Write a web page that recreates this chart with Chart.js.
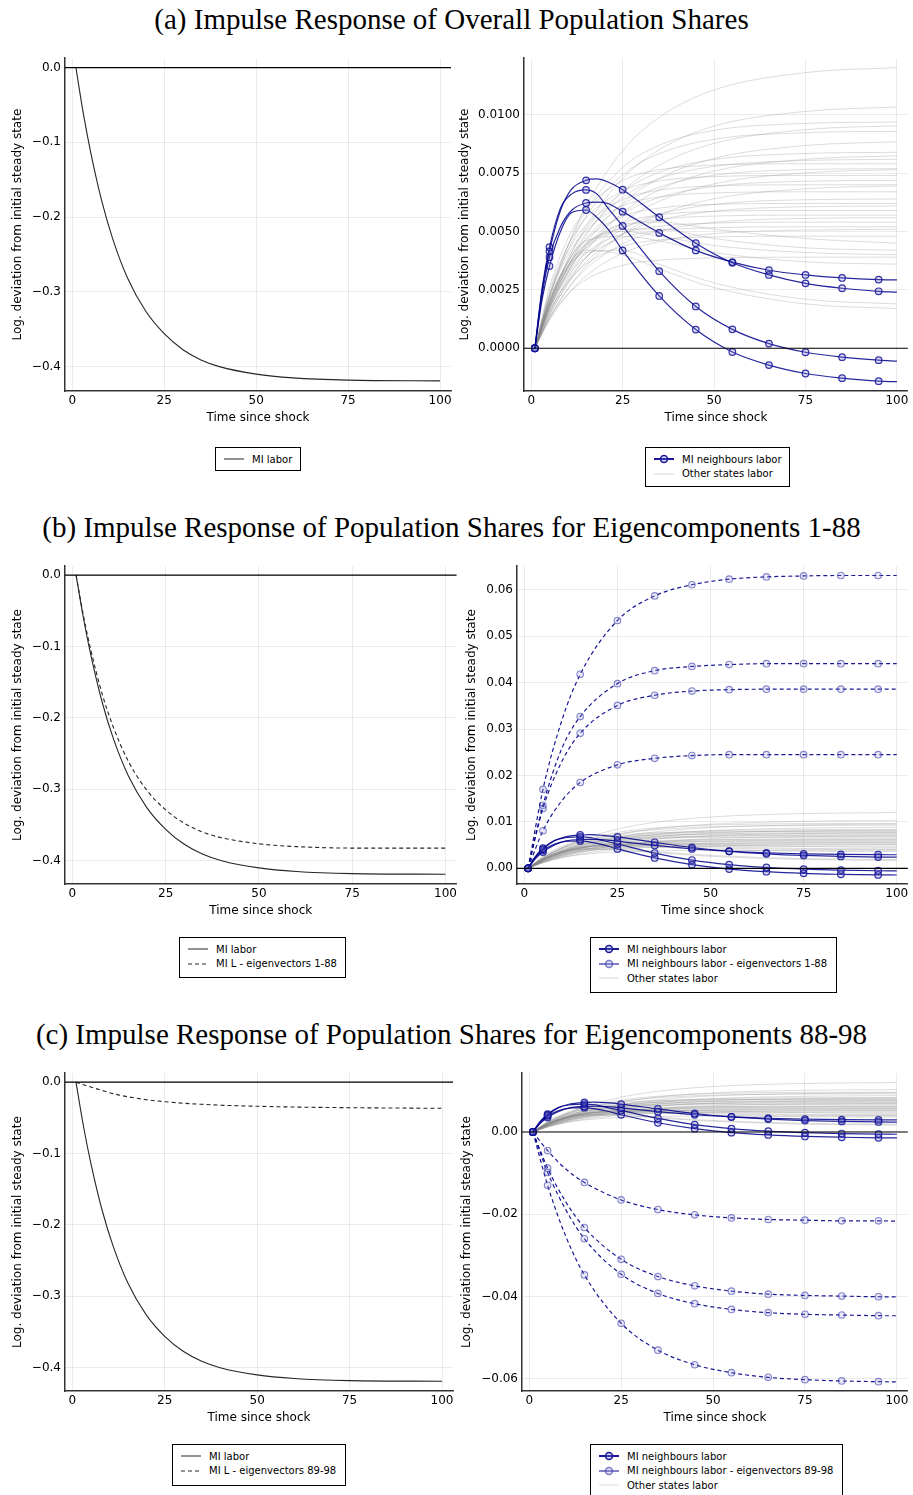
<!DOCTYPE html>
<html>
<head>
<meta charset="utf-8">
<script src="https://cdn.jsdelivr.net/npm/chart.js@4.4.1/dist/chart.umd.min.js"></script>
<style>
  body { margin: 0; background: #fff; }
  #page { position: relative; width: 913px; height: 1495px; overflow: hidden; background: #fff; }
  .title { position: absolute; left: 0; width: 903px; height: 36px; line-height: 36px; text-align: center;
           font-family: "Liberation Serif", serif; font-size: 29px; color: #000; white-space: nowrap; }
  canvas { position: absolute; }
  .legend { position: absolute; box-sizing: border-box; border: 1px solid #000; background: #fff;
            padding: 4px 0 0 8px; font-family: "DejaVu Sans", sans-serif; font-size: 10px; color: #000; }
  .legend .row { height: 14.5px; display: flex; align-items: center; white-space: nowrap; }
  .legend svg { width: 20px; height: 10px; margin-right: 8px; flex: none; }
</style>
</head>
<body>
<div id="page">
  <div class="title" style="top:1px">(a) Impulse Response of Overall Population Shares</div>
  <div class="title" style="top:509px">(b) Impulse Response of Population Shares for Eigencomponents 1-88</div>
  <div class="title" style="top:1016px">(c) Impulse Response of Population Shares for Eigencomponents 88-98</div>

  <canvas id="aL"></canvas>
  <canvas id="aR"></canvas>
  <canvas id="bL"></canvas>
  <canvas id="bR"></canvas>
  <canvas id="cL"></canvas>
  <canvas id="cR"></canvas>

  <div class="legend" style="left:215px;top:447px;width:86px;height:24px">
    <div class="row"><svg><line x1="0" y1="5" x2="20" y2="5" stroke="#262626" stroke-width="1"/></svg>MI labor</div>
  </div>
  <div class="legend" style="left:645px;top:447px;width:145px;height:40px">
    <div class="row"><svg><line x1="0" y1="5" x2="20" y2="5" stroke="#1a1a99" stroke-width="2"/><circle cx="10" cy="5" r="3.5" fill="rgba(120,120,220,0.3)" stroke="#1a1a99" stroke-width="1.5"/></svg>MI neighbours labor</div>
    <div class="row"><svg><line x1="0" y1="5" x2="20" y2="5" stroke="rgba(128,128,128,0.3)" stroke-width="1"/></svg>Other states labor</div>
  </div>

  <div class="legend" style="left:179px;top:937px;width:167px;height:41px">
    <div class="row"><svg><line x1="0" y1="5" x2="20" y2="5" stroke="#262626" stroke-width="1"/></svg>MI labor</div>
    <div class="row"><svg><line x1="0" y1="5" x2="20" y2="5" stroke="#262626" stroke-width="1" stroke-dasharray="4 3"/></svg>MI L - eigenvectors 1-88</div>
  </div>
  <div class="legend" style="left:590px;top:937px;width:247px;height:56px">
    <div class="row"><svg><line x1="0" y1="5" x2="20" y2="5" stroke="#1a1a99" stroke-width="2"/><circle cx="10" cy="5" r="3.5" fill="rgba(120,120,220,0.3)" stroke="#1a1a99" stroke-width="1.5"/></svg>MI neighbours labor</div>
    <div class="row"><svg><line x1="0" y1="5" x2="20" y2="5" stroke="rgba(60,60,170,0.65)" stroke-width="2"/><circle cx="10" cy="5" r="3.5" fill="rgba(140,140,220,0.25)" stroke="rgba(60,60,170,0.65)" stroke-width="1.5"/></svg>MI neighbours labor - eigenvectors 1-88</div>
    <div class="row"><svg><line x1="0" y1="5" x2="20" y2="5" stroke="rgba(128,128,128,0.3)" stroke-width="1"/></svg>Other states labor</div>
  </div>

  <div class="legend" style="left:172px;top:1444px;width:174px;height:42px">
    <div class="row"><svg><line x1="0" y1="5" x2="20" y2="5" stroke="#262626" stroke-width="1"/></svg>MI labor</div>
    <div class="row"><svg><line x1="0" y1="5" x2="20" y2="5" stroke="#262626" stroke-width="1" stroke-dasharray="4 3"/></svg>MI L - eigenvectors 89-98</div>
  </div>
  <div class="legend" style="left:590px;top:1444px;width:253px;height:56px">
    <div class="row"><svg><line x1="0" y1="5" x2="20" y2="5" stroke="#1a1a99" stroke-width="2"/><circle cx="10" cy="5" r="3.5" fill="rgba(120,120,220,0.3)" stroke="#1a1a99" stroke-width="1.5"/></svg>MI neighbours labor</div>
    <div class="row"><svg><line x1="0" y1="5" x2="20" y2="5" stroke="rgba(60,60,170,0.65)" stroke-width="2"/><circle cx="10" cy="5" r="3.5" fill="rgba(140,140,220,0.25)" stroke="rgba(60,60,170,0.65)" stroke-width="1.5"/></svg>MI neighbours labor - eigenvectors 89-98</div>
    <div class="row"><svg><line x1="0" y1="5" x2="20" y2="5" stroke="rgba(128,128,128,0.3)" stroke-width="1"/></svg>Other states labor</div>
  </div>
</div>

<script>
// ---- data ----

// x ticks shared by every panel
const xTicks = [0, 25, 50, 75, 100];
// y ticks for each panel
const laborTicks = [0, -0.1, -0.2, -0.3, -0.4];
const neighTicksA = [0, 0.0025, 0.005, 0.0075, 0.01];
const neighTicksB = [0, 0.01, 0.02, 0.03, 0.04, 0.05, 0.06];
const neighTicksC = [0, -0.02, -0.04, -0.06];

// MI labor (left panels)
const tLabor = [1, 3, 5, 8, 11, 15, 20, 25, 30, 35, 40, 50, 60, 75, 100];
const miLabor = [0, -0.061, -0.113, -0.178, -0.229, -0.281, -0.326, -0.356, -0.377, -0.391, -0.400, -0.410, -0.415, -0.418, -0.419];
const miLabor1to88 = [0, -0.0575, -0.106, -0.1665, -0.213, -0.2606, -0.3015, -0.3287, -0.3475, -0.360, -0.3678, -0.3763, -0.3802, -0.3823, -0.3824];
const miLabor89to98 = [0, -0.0035, -0.0068, -0.0115, -0.0160, -0.0204, -0.0245, -0.0273, -0.0295, -0.0310, -0.0322, -0.0337, -0.0348, -0.0357, -0.0366];

// MI neighbours labor (4 states), markers every 10 periods
const markerTimes = [1, 5, 15, 25, 35, 45, 55, 65, 75, 85, 95];
const tNeigh = [1, 3, 5, 8, 11, 15, 18, 21, 25, 35, 45, 55, 65, 75, 85, 95, 100];
const neighA = [0, 0.0025, 0.00415, 0.0059, 0.0068, 0.00719, 0.00725, 0.00712, 0.00679, 0.00561, 0.0045, 0.00366, 0.00314, 0.00278, 0.00257, 0.00244, 0.0024];
const neighB = [0, 0.0023, 0.0039, 0.0052, 0.0059, 0.00622, 0.00626, 0.0062, 0.00585, 0.00494, 0.00419, 0.00369, 0.00334, 0.00314, 0.00301, 0.00294, 0.00293];
const neighC = [0, 0.0026, 0.00433, 0.0060, 0.0066, 0.00678, 0.0066, 0.0060, 0.00524, 0.0033, 0.00179, 0.00081, 0.0002, -0.00017, -0.00038, -0.00051, -0.00055];
const neighD = [0, 0.0021, 0.00352, 0.0050, 0.0058, 0.00592, 0.0056, 0.0051, 0.00419, 0.00224, 0.0008, -0.00016, -0.00072, -0.00108, -0.00128, -0.00141, -0.00143];

// MI neighbours labor - eigenvector parts
const tEig = [1, 5, 10, 15, 25, 35, 45, 55, 65, 75, 85, 95, 100];
const eig1to88A = [0, 0.0170, 0.0317, 0.0418, 0.0534, 0.0587, 0.0611, 0.0623, 0.0628, 0.0630, 0.0631, 0.0631, 0.0631];
const eig1to88B = [0, 0.0136, 0.0257, 0.0327, 0.0398, 0.0426, 0.0435, 0.0439, 0.0441, 0.0441, 0.0441, 0.0441, 0.0441];
const eig1to88C = [0, 0.0129, 0.0229, 0.0291, 0.0351, 0.0373, 0.0382, 0.0385, 0.0386, 0.0386, 0.0386, 0.0386, 0.0386];
const eig1to88D = [0, 0.0081, 0.0145, 0.0185, 0.0223, 0.0237, 0.0243, 0.0245, 0.0245, 0.0245, 0.0245, 0.0245, 0.0245];
const eig89to98A = [0, -0.00452, -0.00905, -0.01226, -0.01653, -0.01887, -0.02016, -0.02089, -0.02129, -0.02145, -0.02161, -0.02161, -0.0217];
const eig89to98B = [0, -0.0088, -0.0171, -0.02323, -0.03097, -0.03516, -0.03742, -0.03871, -0.03944, -0.03976, -0.03992, -0.04008, -0.0401];
const eig89to98C = [0, -0.00984, -0.0190, -0.02597, -0.0346, -0.03927, -0.04177, -0.04315, -0.04395, -0.04435, -0.04452, -0.04468, -0.0447];
const eig89to98D = [0, -0.01298, -0.0255, -0.03476, -0.04653, -0.05306, -0.05661, -0.05855, -0.05968, -0.06024, -0.06056, -0.06073, -0.0608];

// other states labor (grey bundle)
const tOther = [1, 5, 10, 15, 25, 35, 50, 75, 100];
const otherStates = [
  [0, .00219, .00438, .00609, .00846, .00989, .01106, .0118, .01202],
  [0, .00188, .00376, .00523, .00727, .0085, .00951, .01014, .01033],
  [0, .00227, .00437, .00589, .00774, .00869, .00933, .00963, .00969],
  [0, .00174, .00348, .00483, .00671, .00784, .00877, .00936, .00953],
  [0, .00218, .00419, .00565, .00742, .00833, .00895, .00923, .00929],
  [0, .00161, .00322, .00448, .00622, .00727, .00813, .00868, .00884],
  [0, .00197, .00379, .0051, .0067, .00753, .00808, .00834, .00839],
  [0, .0015, .003, .00417, .0058, .00678, .00759, .00809, .00824],
  [0, .0019, .00365, .00492, .00646, .00726, .00779, .00804, .00809],
  [0, .00261, .00468, .00595, .00718, .00764, .00784, .0079, .0079],
  [0, .0018, .00347, .00467, .00614, .0069, .00741, .00765, .00769],
  [0, .00139, .00279, .00387, .00538, .00629, .00704, .00751, .00765],
  [0, .00244, .00439, .00557, .00673, .00716, .00735, .0074, .0074],
  [0, .00168, .00325, .00437, .00575, .00645, .00693, .00715, .00719],
  [0, .00231, .00415, .00527, .00636, .00677, .00695, .007, .007],
  [0, .00127, .00253, .00352, .00489, .00572, .0064, .00683, .00695],
  [0, .00221, .00397, .00505, .00609, .00648, .00665, .0067, .0067],
  [0, .0015, .00289, .00388, .00511, .00573, .00616, .00636, .00639],
  [0, .00205, .00368, .00467, .00564, .006, .00616, .0062, .0062],
  [0, .00143, .00275, .0037, .00487, .00547, .00587, .00606, .00609],
  [0, .00195, .0035, .00444, .00536, .00571, .00586, .0059, .0059],
  [0, .00188, .00338, .00429, .00518, .00551, .00566, .0057, .0057],
  [0, .00131, .00253, .0034, .00447, .00502, .00539, .00556, .00559],
  [0, .00178, .0032, .00407, .00491, .00522, .00536, .0054, .0054],
  [0, .00172, .00308, .00392, .00473, .00503, .00516, .0052, .0052],
  [0, .00119, .0023, .0031, .00407, .00457, .00491, .00506, .00509],
  [0, .00158, .00285, .00361, .00436, .00464, .00477, .0048, .0048],
  [0, .0017, .0033, .0043, .0053, .0054, .0051, .0047, .0045],
  [0, .0018, .0034, .0044, .0051, .0051, .0047, .0043, .0042],
  [0, .0019, .0035, .0045, .0050, .0048, .0044, .0041, .0040],
  [0, .0020, .0037, .0046, .0048, .0046, .0041, .0037, .0036],
  [0, .0020, .0035, .0041, .0042, .0036, .0028, .0021, .0019],
  [0, .0021, .0036, .0042, .0040, .0034, .0026, .0019, .0017],
  [0, .00129, .00231, .00294, .00355, .00377, .00387, .0039, .0039]
];

// ---- styling helpers ----
const xMin = -1.97, xMax = 102.97;
const NAVY = "rgba(0,0,139,0.85)";
const FONT = "DejaVu Sans";

function pts(ts, vs) {
  return ts.map((t, i) => ({ x: t, y: vs[i] }));
}

function markers(ts) {
  return ts.map((t) => (markerTimes.includes(t) ? 3.3 : 0));
}

function laborLine(vals, dashed) {
  return {
    data: pts(tLabor, vals),
    borderColor: "#262626",
    borderWidth: 1.1,
    borderDash: dashed ? [4, 3] : [],
    pointRadius: 0,
    cubicInterpolationMode: "monotone",
    fill: false,
  };
}

function neighLine(vals) {
  return {
    data: pts(tNeigh, vals),
    borderColor: NAVY,
    borderWidth: 1.2,
    pointRadius: markers(tNeigh),
    pointBorderColor: "rgba(20,20,150,0.85)",
    pointBackgroundColor: "rgba(110,110,210,0.25)",
    pointBorderWidth: 1.2,
    cubicInterpolationMode: "monotone",
    fill: false,
  };
}

function eigLine(vals) {
  return {
    data: pts(tEig, vals),
    borderColor: "rgba(0,0,139,0.9)",
    borderWidth: 1.2,
    borderDash: [4, 3],
    pointRadius: markers(tEig),
    pointBorderColor: "rgba(60,60,170,0.6)",
    pointBackgroundColor: "rgba(140,140,220,0.2)",
    pointBorderWidth: 1.1,
    cubicInterpolationMode: "monotone",
    fill: false,
  };
}

function otherLines() {
  return otherStates.map((vals) => ({
    data: pts(tOther, vals),
    borderColor: "rgba(128,128,128,0.28)",
    borderWidth: 1,
    pointRadius: 0,
    cubicInterpolationMode: "monotone",
    fill: false,
  }));
}

function neighbours() {
  return [neighLine(neighA), neighLine(neighB), neighLine(neighC), neighLine(neighD)];
}

// horizontal line at zero
const zeroLine = {
  id: "zeroLine",
  afterDatasetsDraw(chart) {
    const { ctx, chartArea, scales } = chart;
    const py = scales.y.getPixelForValue(0);
    ctx.save();
    ctx.strokeStyle = "#000";
    ctx.lineWidth = 1.2;
    ctx.beginPath();
    ctx.moveTo(chartArea.left, py);
    ctx.lineTo(chartArea.right, py);
    ctx.stroke();
    ctx.restore();
  },
};

function fmt(v, dec) {
  const s = Math.abs(v) < 1e-12 ? (0).toFixed(dec) : v.toFixed(dec);
  return s.replace("-", "\u2212");
}

// panel layout: plot box in page pixels
const panels = [
  { id: "aL", left: 0, width: 460, plotTop: 57, plotBottom: 391, plotLeft: 65, plotRight: 451, titlePad: 11,
    ymin: -0.4326, ymax: 0.0126, yTicks: laborTicks, dec: 1,
    sets: () => [laborLine(miLabor, false)] },
  { id: "aR", left: 450, width: 463, plotTop: 57, plotBottom: 391, plotLeft: 524, plotRight: 909, titlePad: 8,
    ymin: -0.00183, ymax: 0.01242, yTicks: neighTicksA, dec: 4,
    sets: () => [...neighbours(), ...otherLines()] },
  { id: "bL", left: 0, width: 460, plotTop: 565, plotBottom: 884, plotLeft: 65, plotRight: 458, titlePad: 11,
    ymin: -0.4326, ymax: 0.0126, yTicks: laborTicks, dec: 1,
    sets: () => [laborLine(miLabor, false), laborLine(miLabor1to88, true)] },
  { id: "bR", left: 450, width: 463, plotTop: 565, plotBottom: 884, plotLeft: 517, plotRight: 910, titlePad: 15,
    ymin: -0.00337, ymax: 0.0651, yTicks: neighTicksB, dec: 2,
    sets: () => [...neighbours(), eigLine(eig1to88A), eigLine(eig1to88B), eigLine(eig1to88C), eigLine(eig1to88D), ...otherLines()] },
  { id: "cL", left: 0, width: 460, plotTop: 1072, plotBottom: 1391, plotLeft: 65, plotRight: 453, titlePad: 11,
    ymin: -0.4326, ymax: 0.0126, yTicks: laborTicks, dec: 1,
    sets: () => [laborLine(miLabor, false), laborLine(miLabor89to98, true)] },
  { id: "cR", left: 450, width: 463, plotTop: 1072, plotBottom: 1391, plotLeft: 522, plotRight: 909, titlePad: 10,
    ymin: -0.0630, ymax: 0.0143, yTicks: neighTicksC, dec: 2,
    sets: () => [...neighbours(), eigLine(eig89to98A), eigLine(eig89to98B), eigLine(eig89to98C), eigLine(eig89to98D), ...otherLines()] },
];

panels.forEach((p) => {
  const canvas = document.getElementById(p.id);
  const top = p.plotTop - 10;
  const height = p.plotBottom - p.plotTop + 50;
  canvas.width = p.width;
  canvas.height = height;
  canvas.style.left = p.left + "px";
  canvas.style.top = top + "px";
  canvas.style.width = p.width + "px";
  canvas.style.height = height + "px";

  const yWidth = p.plotLeft - p.left;
  const padRight = p.left + p.width - p.plotRight;
  const grid = { color: "rgba(0,0,0,0.1)", lineWidth: 0.8, drawTicks: false };
  const border = { display: true, color: "#333", width: 1.5 };

  new Chart(canvas.getContext("2d"), {
    type: "line",
    data: { datasets: p.sets() },
    options: {
      responsive: false,
      animation: false,
      devicePixelRatio: 1,
      layout: { padding: { top: 10, right: padRight, left: 0, bottom: 0 } },
      plugins: { legend: { display: false }, tooltip: { enabled: false } },
      scales: {
        x: {
          type: "linear",
          min: xMin,
          max: xMax,
          afterBuildTicks: (s) => { s.ticks = xTicks.map((v) => ({ value: v })); },
          afterFit: (s) => { s.height = 40; },
          ticks: { autoSkip: false, maxRotation: 0, padding: 3, color: "#000", font: { family: FONT, size: 12 },
                   callback: (v) => String(v) },
          grid: grid,
          border: border,
          title: { display: true, text: "Time since shock", color: "#000",
                   font: { family: FONT, size: 12 }, padding: { top: 0, bottom: 6 } },
        },
        y: {
          type: "linear",
          min: p.ymin,
          max: p.ymax,
          afterBuildTicks: (s) => { s.ticks = p.yTicks.map((v) => ({ value: v })); },
          afterFit: (s) => { s.width = yWidth; },
          ticks: { autoSkip: false, padding: 4, color: "#000", font: { family: FONT, size: 12 },
                   callback: (v) => fmt(v, p.dec) },
          grid: grid,
          border: border,
          title: { display: true, text: "Log. deviation from initial steady state", color: "#000",
                   font: { family: FONT, size: 12 }, padding: { top: p.titlePad, bottom: 0 } },
        },
      },
    },
    plugins: [zeroLine],
  });
});
</script>
</body>
</html>
